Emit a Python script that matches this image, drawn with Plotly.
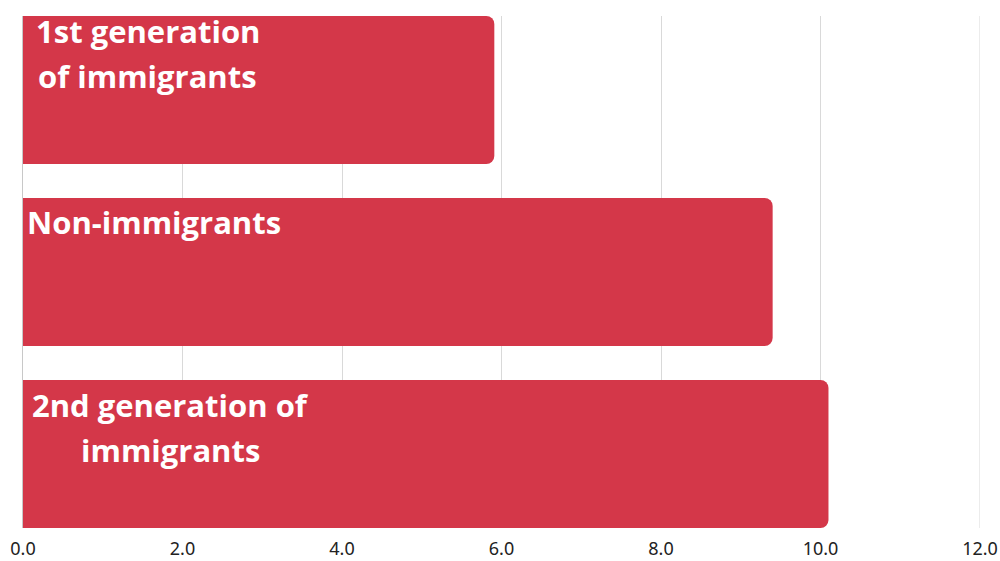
import plotly.graph_objects as go

categories = ["1st generation of immigrants", "Non-immigrants", "2nd generation of immigrants"]
values = [5.91, 9.40, 10.10]
label_lines = [["1st generation", "of immigrants"], ["Non-immigrants"], ["2nd generation of", "immigrants"]]
tick_vals = [0, 2, 4, 6, 8, 10, 12]
tick_text = ["0.0", "2.0", "4.0", "6.0", "8.0", "10.0", "12.0"]

BAR = "#D43749"
fig = go.Figure(go.Bar(
    x=values, y=categories, orientation="h",
    marker=dict(color=BAR, line=dict(width=0), cornerradius=8),
    hoverinfo="skip",
))

w = 0.813
centers = [124.5, 131, 147.5]
line_gap = 45
first_offset = [27, 36, 37]
bar_half_px = 74
size = 31
for i, lines in enumerate(label_lines):
    for j, t in enumerate(lines):
        baseline = first_offset[i] + j * line_gap
        ysh = bar_half_px - baseline + 0.30 * size + 3
        fig.add_annotation(
            x=0, y=categories[i], xref="x", yref="y", text=t, showarrow=False,
            xanchor="center", yanchor="middle", xshift=centers[i], yshift=ysh,
            font=dict(family="Open Sans", size=size, color="white", weight="bold"),
        )

fig.update_layout(
    width=1000, height=561,
    margin=dict(l=23, r=20, t=16, b=33, autoexpand=False),
    paper_bgcolor="white", plot_bgcolor="white",
    bargap=1 - w, showlegend=False,
    font=dict(family="Noto Sans", color="#222222"),
)
fig.update_xaxes(
    range=[0, 12], tickvals=tick_vals, ticktext=tick_text, automargin=False,
    showgrid=True, gridcolor="#d9d9d9", gridwidth=1, zeroline=False,
    showline=False, ticks="", tickfont=dict(size=18, color="#222222"),
    ticklabelstandoff=8,
)
fig.update_yaxes(
    range=[2 + w / 2, -w / 2], showticklabels=False, showgrid=False, automargin=False,
    showline=True, linecolor="#c8c8c8", linewidth=1, ticks="", zeroline=False,
)
fig.add_shape(type="line", xref="x", yref="paper", x0=12, x1=12, y0=0, y1=1,
              line=dict(color="#d9d9d9", width=1), layer="below")
fig.write_html("out.html")
